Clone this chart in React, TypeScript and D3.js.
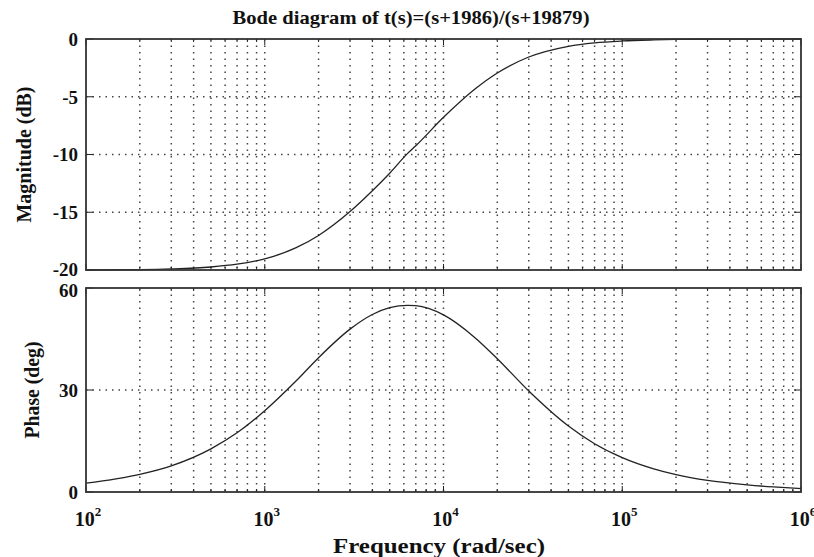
import React from "react";
import * as d3 from "d3";

// frequencies (rad/sec) at which the curves were read
const freqs = [100, 200, 300, 500, 700, 1000, 1500, 2000, 3000, 4000, 5000, 6300, 7000, 10000, 15000, 20000, 30000, 50000, 70000, 100000, 150000, 200000, 300000, 500000, 700000, 1000000];
const magnitudeDb = [-20.0, -19.97, -19.91, -19.74, -19.5, -19.04, -18.07, -17.01, -14.94, -13.14, -11.62, -9.9, -9.24, -6.78, -4.33, -2.94, -1.56, -0.63, -0.33, -0.17, -0.08, -0.04, -0.02, -0.01, 0, 0];
const phaseDeg = [2.6, 5.2, 7.7, 12.7, 17.4, 23.9, 32.7, 39.5, 47.9, 52.2, 54.2, 54.9, 54.8, 52.1, 45.4, 39.2, 29.7, 19.4, 14.2, 10.1, 6.8, 5.1, 3.4, 2.1, 1.5, 1.0];

const magTicks = [0, -5, -10, -15, -20];
const phaseTicks = [60, 30, 0];
const decades = [2, 3, 4, 5, 6];

const W = 814, H = 557;
const left = 86, right = 801;
const magTop = 39, magBottom = 270;
const phTop = 288, phBottom = 492;

const serif = "'Liberation Serif', 'DejaVu Serif', serif";
const gridColor = "#444";
const ink = "#111";

export default function App() {
  const x = d3.scaleLog().domain([1e2, 1e6]).range([left, right]);
  const yMag = d3.scaleLinear().domain([-20, 0]).range([magBottom, magTop]);
  const yPh = d3.scaleLinear().domain([0, 60]).range([phBottom, phTop]);

  const minor: number[] = [];
  for (let e = 2; e < 6; e++) for (let k = 2; k <= 9; k++) minor.push(k * Math.pow(10, e));
  const major = decades.map((e) => Math.pow(10, e));

  const magLine = d3.line<number>().x((d, i) => x(freqs[i])).y((d) => yMag(d)).curve(d3.curveMonotoneX);
  const phLine = d3.line<number>().x((d, i) => x(freqs[i])).y((d) => yPh(d)).curve(d3.curveMonotoneX);

  const panel = (top: number, bottom: number, y: d3.ScaleLinear<number, number>, ticks: number[], path: string, nudge: (t: number) => number) => (
    <g>
      {/* vertical grid */}
      {[...minor, ...major.slice(1, -1)].map((f) => (
        <line key={"v" + f} x1={x(f)} x2={x(f)} y1={top} y2={bottom} stroke={gridColor} strokeWidth={1.5} strokeDasharray="1.5,5" />
      ))}
      {/* horizontal grid */}
      {ticks.slice(1, -1).map((t) => (
        <line key={"h" + t} x1={left} x2={right} y1={y(t)} y2={y(t)} stroke={gridColor} strokeWidth={1.5} strokeDasharray="1.5,5" />
      ))}
      {/* x ticks top and bottom */}
      {minor.map((f) => (
        <g key={"mt" + f}>
          <line x1={x(f)} x2={x(f)} y1={top} y2={top + 3} stroke="#222" />
          <line x1={x(f)} x2={x(f)} y1={bottom} y2={bottom - 3} stroke="#222" />
        </g>
      ))}
      {major.map((f) => (
        <g key={"Mt" + f}>
          <line x1={x(f)} x2={x(f)} y1={top} y2={top + 6} stroke="#222" />
          <line x1={x(f)} x2={x(f)} y1={bottom} y2={bottom - 6} stroke="#222" />
        </g>
      ))}
      {/* y ticks left and right */}
      {ticks.map((t) => (
        <g key={"yt" + t}>
          <line x1={left} x2={left + 7} y1={y(t)} y2={y(t)} stroke="#222" />
          <line x1={right} x2={right - 7} y1={y(t)} y2={y(t)} stroke="#222" />
          <text x={78} y={y(t) + nudge(t)} dy="0.36em" textAnchor="end" fontFamily={serif} fontWeight="bold" fontSize={19} fill={ink}>
            {t}
          </text>
        </g>
      ))}
      <path d={path} fill="none" stroke="#222" strokeWidth={1.3} />
      <rect x={left} y={top} width={right - left} height={bottom - top} fill="none" stroke="#333" strokeWidth={1.8} />
    </g>
  );

  return (
    <svg width={W} height={H} style={{ position: "absolute", left: 0, top: 0, background: "#fff" }}>
      <rect width={W} height={H} fill="#fff" />
      <text x={411} y={24} textAnchor="middle" fontFamily={serif} fontWeight="bold" fontSize={19} fill={ink} textLength={357} lengthAdjust="spacingAndGlyphs">
        Bode diagram of t(s)=(s+1986)/(s+19879)
      </text>
      {panel(magTop, magBottom, yMag, magTicks, magLine(magnitudeDb) || "", (t) => (t === -20 ? -1 : 0))}
      {panel(phTop, phBottom, yPh, phaseTicks, phLine(phaseDeg) || "", (t) => (t === 60 ? 2 : 0))}
      <text transform={`translate(31,${(magTop + magBottom) / 2}) rotate(-90)`} textAnchor="middle" fontFamily={serif} fontWeight="bold" fontSize={20} fill={ink} textLength={136} lengthAdjust="spacingAndGlyphs">
        Magnitude (dB)
      </text>
      <text transform={`translate(39,${(phTop + phBottom) / 2}) rotate(-90)`} textAnchor="middle" fontFamily={serif} fontWeight="bold" fontSize={20} fill={ink} textLength={97} lengthAdjust="spacingAndGlyphs">
        Phase (deg)
      </text>
      {decades.map((e) => (
        <text key={"xl" + e} x={x(Math.pow(10, e)) + 2} y={526} textAnchor="middle" fontFamily={serif} fontWeight="bold" fontSize={20} fill={ink}>
          10
          <tspan dy={-10} fontSize={13}>{e}</tspan>
        </text>
      ))}
      <text x={439} y={553} textAnchor="middle" fontFamily={serif} fontWeight="bold" fontSize={20} fill={ink} textLength={212} lengthAdjust="spacingAndGlyphs">
        Frequency  (rad/sec)
      </text>
    </svg>
  );
}
